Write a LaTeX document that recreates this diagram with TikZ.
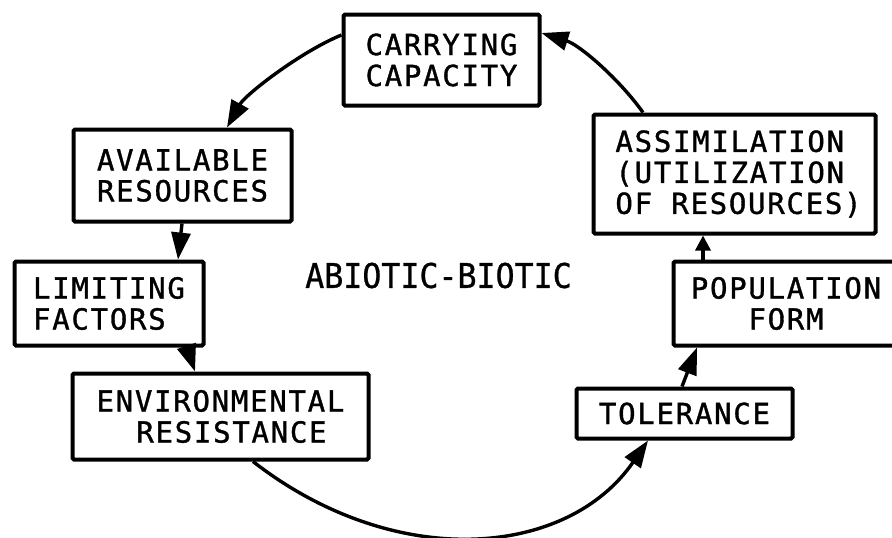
\documentclass[tikz,border=0pt]{standalone}
\usepackage{fontspec}
\usetikzlibrary{arrows.meta,calc}
\newfontfamily\boxfont[LetterSpace=6,FakeBold=1.2]{DejaVu Sans Mono}
\newfontfamily\titlefont[FakeStretch=0.93,FakeBold=0.8]{DejaVu Sans Mono}

\begin{document}
\begin{tikzpicture}[x=1pt,y=-1pt,
  box/.style={draw,line width=4pt,rounded corners=1.5pt,inner sep=0pt,
    font=\boxfont\fontsize{29}{31}\selectfont},
  link/.style={line width=3.4pt,-{Triangle[length=27pt,width=19pt]}},
  shortlink/.style={line width=3.4pt,-{Triangle[length=15pt,width=15pt]}}]
\clip (0,0) rectangle (892,538);

% the stations of the cycle
\node[box,align=center,minimum width=196pt,minimum height=91pt] (carry) at (441.5,60) {CARRYING\\CAPACITY};
\node[box,align=center,minimum width=218pt,minimum height=92pt] (avail) at (182.5,175.5) {AVAILABLE\\RESOURCES};
\node[box,align=left,minimum width=189pt,minimum height=84pt] (limit) at (109,303.5) {LIMITING\\FACTORS};
\node[box,align=center,minimum width=296pt,minimum height=86pt] (env) at (220.5,416.5) {ENVIRONMENTAL\\\hspace*{22pt}RESISTANCE};
\node[box,align=center,minimum width=216pt,minimum height=50pt] (toler) at (684.5,413.5) {TOLERANCE};
\node[box,align=center,minimum width=225pt,minimum height=84pt] (popul) at (786,303.5) {POPULATION\\FORM};
\node[box,align=left,minimum width=282pt,minimum height=119pt] (assim) at (734.5,174) {\hspace*{8pt}ASSIMILATION\\\hspace*{8pt}(UTILIZATION\\\hspace*{8pt}OF RESOURCES)};

% label in the middle of the cycle
\node[font=\titlefont\fontsize{34}{36}\selectfont,inner sep=0pt] (center) at (438.5,275.5) {ABIOTIC-BIOTIC};

% connectors
\draw[link] ($(carry.west)+(0,-25)$) .. controls (300,52) and (245,95) .. ($(avail.north)+(44.5,0)$);
\draw[link] ($(avail.south)+(-0.5,0)$) -- ($(limit.north)+(69,0)$);
\draw[link] ($(limit.south)+(78,0)$) -- ($(env.north)+(-25.5,0)$);
\draw[link] ($(env.south)+(32.5,0)$) .. controls (395,572) and (567,558) .. ($(toler.south)+(-36.5,0)$);
\draw[link] ($(toler.north)+(-2.5,0)$) -- ($(popul.south)+(-89,0)$);
\draw[shortlink] ($(popul.north)+(-83,0)$) -- ($(assim.south)+(-31.5,0)$);
\draw[link] ($(assim.north)+(-91.5,0)$) .. controls (620,80) and (580,45) .. ($(carry.east)+(0,-27)$);
\end{tikzpicture}
\end{document}
